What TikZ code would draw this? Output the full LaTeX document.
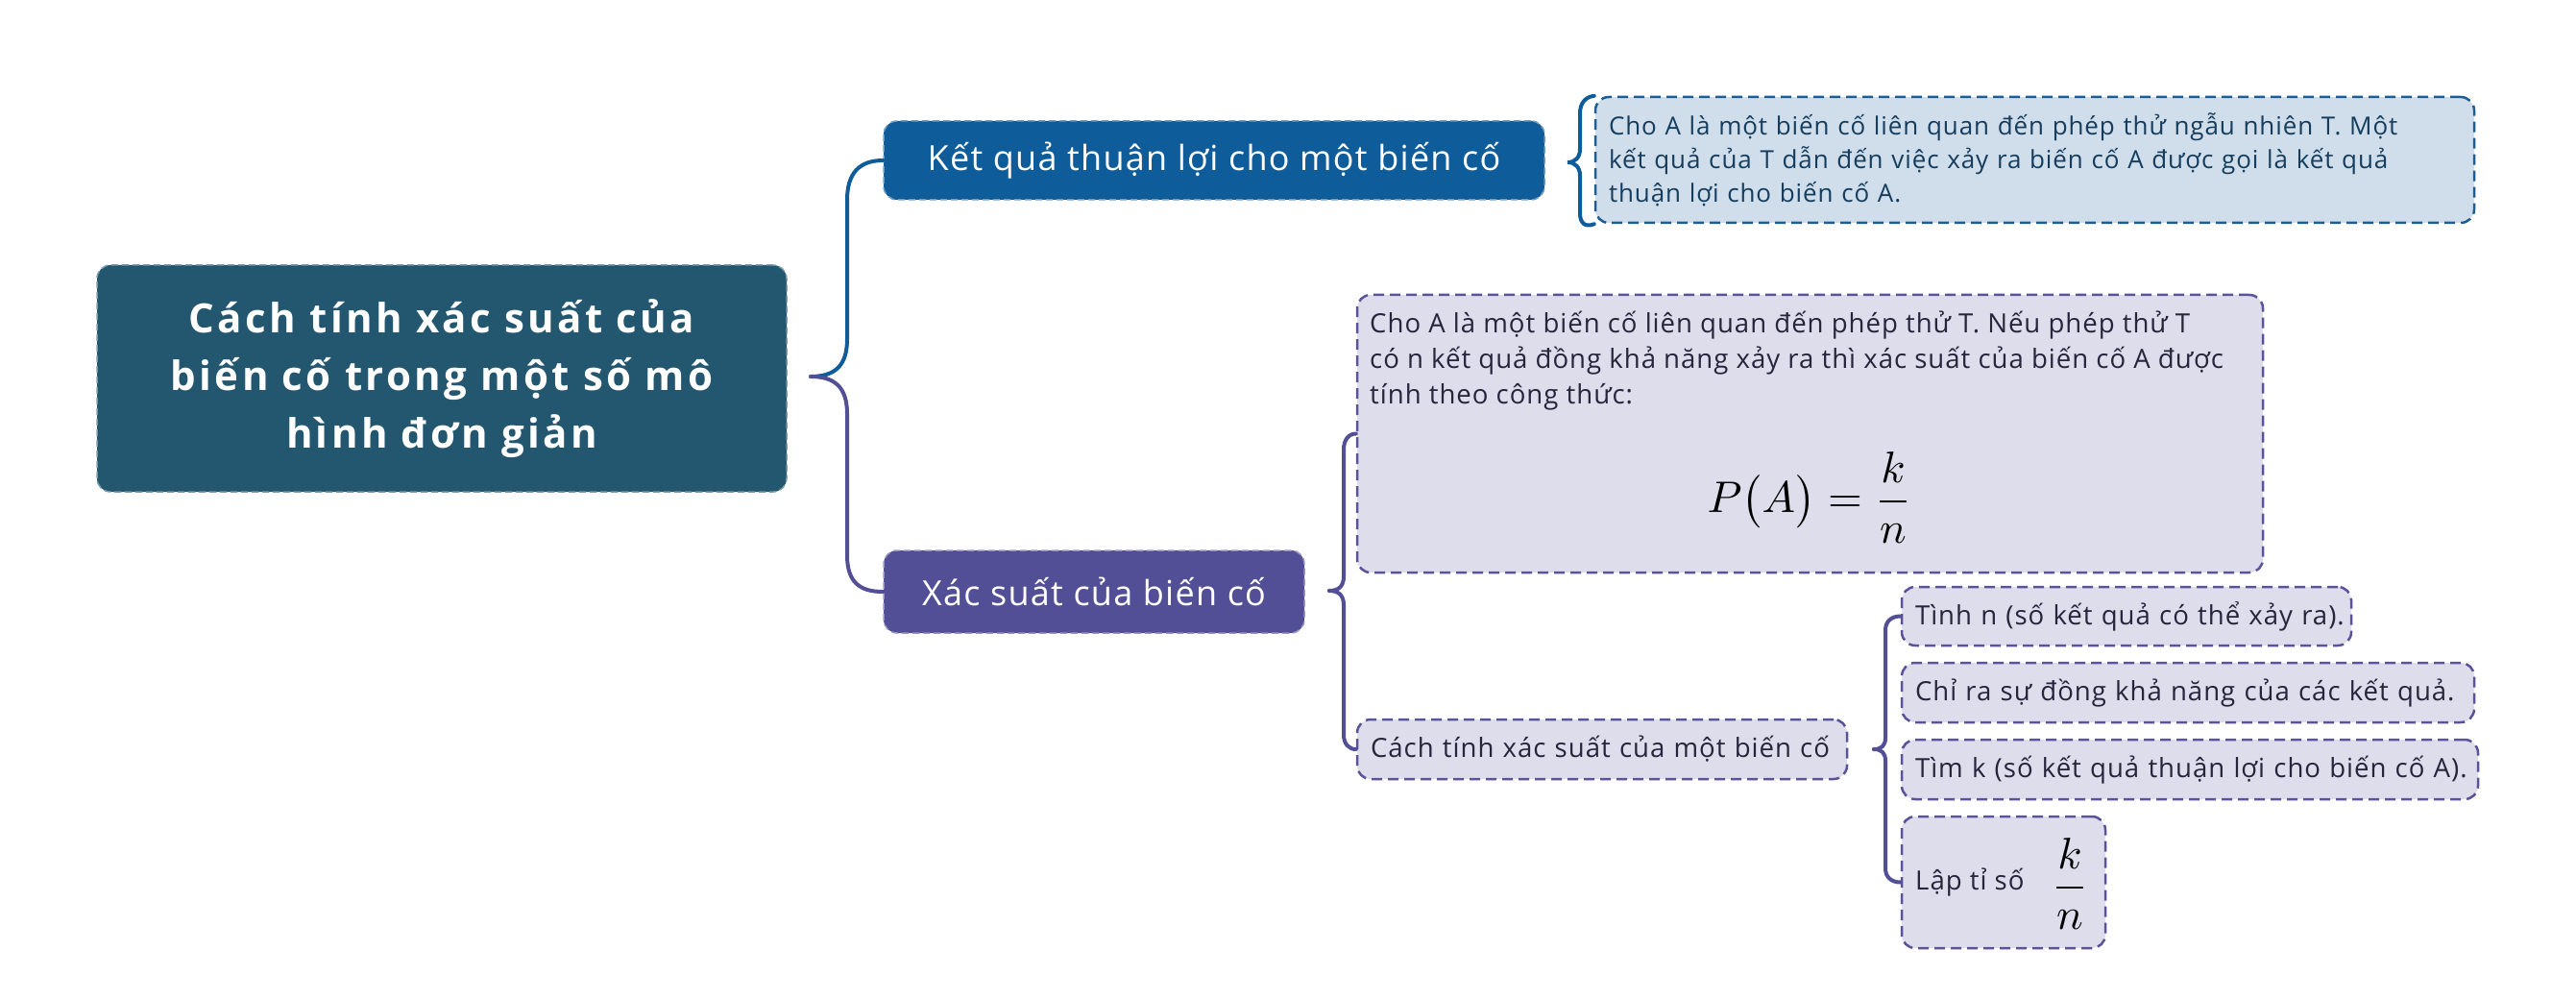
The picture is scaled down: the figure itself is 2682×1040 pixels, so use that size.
\documentclass[tikz,border=0pt]{standalone}
\usepackage{amsmath}
\usepackage{graphicx}
\usepackage{fontspec}
\setmainfont{Open Sans}[LetterSpace=3.5]
\newfontfamily\rootfont{Open Sans}[LetterSpace=8]
\definecolor{rootc}{HTML}{23566F}
\definecolor{kqc}{HTML}{0E5C99}
\definecolor{xsc}{HTML}{534F96}
\definecolor{lbfill}{HTML}{CFDEEA}
\definecolor{lbdraw}{HTML}{1E5D93}
\definecolor{lbtext}{HTML}{163D5E}
\definecolor{lpfill}{HTML}{DEDDEC}
\definecolor{lpdraw}{HTML}{5A539A}
\definecolor{lptext}{HTML}{27243C}
\tikzset{
  darkbox/.style={rounded corners=14pt, dash pattern=on 7pt off 4pt, line width=1.5pt, text=white, inner sep=0pt},
  rootbox/.style={darkbox, fill=rootc, draw=white!40!rootc, font=\rootfont\fontsize{42pt}{60pt}\selectfont\bfseries},
  kqbox/.style={darkbox, fill=kqc, draw=white!40!kqc, font=\fontsize{36pt}{40pt}\selectfont},
  xsbox/.style={darkbox, fill=xsc, draw=white!40!xsc, font=\fontsize{36pt}{40pt}\selectfont},
  lbbox/.style={rounded corners=14pt, fill=lbfill, draw=lbdraw, dash pattern=on 11pt off 6pt, line width=2.5pt, text=lbtext, font=\fontsize{26pt}{35pt}\selectfont, inner xsep=14pt, inner ysep=0pt, align=left},
  lpbox/.style={rounded corners=14pt, fill=lpfill, draw=lpdraw, dash pattern=on 11pt off 6pt, line width=2.5pt, text=lptext, font=\fontsize{27.6pt}{37pt}\selectfont, inner xsep=14pt, inner ysep=0pt, align=left},
  lptxt/.style={text=lptext, font=\fontsize{27.6pt}{37pt}\selectfont, inner sep=0pt, align=left},
  fracnode/.style={text=black, inner sep=0pt},
  bluelink/.style={draw=kqc, line width=4pt, line cap=round},
  purplelink/.style={draw=xsc, line width=4pt, line cap=round},
}
\begin{document}
\begin{tikzpicture}[x=1pt,y=-1pt]
\useasboundingbox (0,0) rectangle (2682,1040);
% boxes
\node[rootbox, minimum width=718pt, minimum height=236pt, align=center] (root) at (460,394) {Cách tính xác suất của\\biến cố trong một số mô\\hình đơn giản};
\node[kqbox, minimum width=688pt, minimum height=82pt] (kq) at (1264,167) {Kết quả thuận lợi cho một biến cố};
\node[xsbox, minimum width=438pt, minimum height=86pt] (xs) at (1139,616) {Xác suất của biến cố};
\node[lbbox, text width=887pt, minimum height=131pt] (d1) at (2118.5,166.5) {Cho A là một biến cố liên quan đến phép thử ngẫu nhiên T. Một\\kết quả của T dẫn đến việc xảy ra biến cố A được gọi là kết quả\\thuận lợi cho biến cố A.};
\node[lpbox, minimum width=943pt, minimum height=289pt] (fb) at (1884.5,451.5) {};
\node[lptxt, anchor=north west] (fbtxt) at (1426,324) {Cho A là một biến cố liên quan đến phép thử T. Nếu phép thử T\\có n kết quả đồng khả năng xảy ra thì xác suất của biến cố A được\\tính theo công thức:};
\node[fracnode] (formula) at (1884,518) {\scalebox{4.6}{$P\bigl(A\bigr)=\dfrac{k}{n}$}};
\node[lpbox, text width=482pt, minimum height=62pt] (cach) at (1668,780) {\mbox{Cách tính xác suất của một biến cố}};
\node[lpbox, text width=440pt, minimum height=61pt] (tn) at (2214,641.5) {\mbox{Tình n (số kết quả có thể xảy ra).}};
\node[lpbox, text width=568pt, minimum height=62pt] (cr) at (2278,721) {\mbox{Chỉ ra sự đồng khả năng của các kết quả.}};
\node[lpbox, text width=572pt, minimum height=62pt] (tk) at (2280,801) {\mbox{Tìm k (số kết quả thuận lợi cho biến cố A).}};
\node[lpbox, minimum width=212pt, minimum height=137pt] (lap) at (2086,918.5) {};
\node[lptxt, anchor=west] (laptxt) at (1994,918) {Lập tỉ số};
\node[fracnode] (lapfrac) at (2155,920) {\scalebox{4.6}{$\dfrac{k}{n}$}};
% braces / connectors
\coordinate (rtip) at (844,392);
\draw[bluelink] (rtip) .. controls (870,392) and (882,380) .. (882,353) -- (882,208) .. controls (882,180) and (895,167) .. (kq.west);
\draw[purplelink] (rtip) .. controls (870,392) and (882,404) .. (882,431) -- (882,578) .. controls (882,606) and (895,616) .. (xs.west);
\coordinate (d1tip) at (1632,169);
\draw[bluelink] (d1.north west) .. controls (1650,101) and (1645,108) .. (1645,118) -- (1645,155) .. controls (1645,164) and (1640,169) .. (d1tip) .. controls (1640,169) and (1645,174) .. (1645,183) -- (1645,222) .. controls (1645,232) and (1650,237) .. (d1.south west);
\coordinate (xstip) at (1384,615);
\draw[purplelink] (xstip) .. controls (1394,615) and (1399,610) .. (1399,600) -- (1399,468) .. controls (1399,458) and (1404,451.5) .. (fb.west);
\draw[purplelink] (xstip) .. controls (1394,615) and (1399,620) .. (1399,630) -- (1399,765) .. controls (1399,774) and (1404,780) .. (cach.west);
\coordinate (ctip) at (1951,780);
\draw[purplelink] (ctip) .. controls (1959,780) and (1963,776) .. (1963,768) -- (1963,656) .. controls (1963,647) and (1969,641.5) .. (tn.west);
\draw[purplelink] (ctip) .. controls (1959,780) and (1963,784) .. (1963,792) -- (1963,904) .. controls (1963,913) and (1969,918.5) .. (lap.west);
\end{tikzpicture}
\end{document}
